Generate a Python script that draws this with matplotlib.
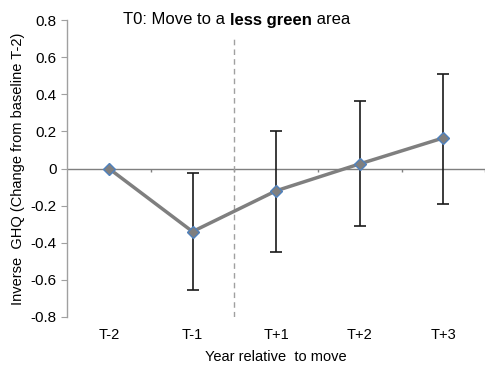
import matplotlib.pyplot as plt
import numpy as np

plt.rcParams['font.family'] = ['Liberation Sans', 'DejaVu Sans']

# data
labels = ["T-2", "T-1", "T+1", "T+2", "T+3"]
ghq = [0.0, -0.34, -0.12, 0.025, 0.165]
err_low = [0.0, 0.315, 0.33, 0.335, 0.355]
err_high = [0.0, 0.315, 0.325, 0.34, 0.345]

fig = plt.figure(figsize=(4.9, 3.8), dpi=100)
ax = fig.add_axes([0.137, 0.166, 0.853, 0.781])

x = np.arange(len(labels))

# error bars (none for the baseline)
ax.errorbar(x[1:], ghq[1:], yerr=[err_low[1:], err_high[1:]], fmt="none",
            ecolor="#1a1a1a", elinewidth=1.2, capsize=4, capthick=1.2, zorder=2)
ax.plot(x, ghq, color="#7f7f7f", lw=2.5, marker="D", ms=6.5,
        mfc="#7f7f7f", mec="#4f81bd", mew=1.0, zorder=3)

ax.axhline(0, color="#7f7f7f", lw=1.0, zorder=1)
ax.vlines(np.arange(0.5, 5, 1), 0, -0.02, color="#7f7f7f", lw=1.0)
ax.vlines(1.5, -0.8, 0.7, color="#a0a0a0", lw=1.0, linestyles=(0, (4, 3)))

ax.set_xlim(-0.5, 4.5)
ax.set_ylim(-0.8, 0.8)
yt = np.arange(-0.8, 0.81, 0.2)
ax.set_yticks(yt)
ax.set_yticklabels(["0" if abs(v) < 1e-9 else f"{v:.1f}" for v in yt])
ax.set_xticks(x)
ax.set_xticklabels(labels)

for s in ["top", "right", "bottom"]:
    ax.spines[s].set_visible(False)
ax.spines["left"].set_color("#a0a0a0")
ax.spines["left"].set_linewidth(1.0)
ax.tick_params(axis="y", colors="#a0a0a0", labelcolor="black", labelsize=11, length=4)
ax.tick_params(axis="x", length=0, labelsize=10.5, pad=8)

ax.set_xlabel("Year relative  to move", fontsize=10.5, labelpad=6)
ax.set_ylabel("Inverse  GHQ (Change from baseline T-2)", fontsize=10.5, labelpad=4)

# title with a bold part
fig.canvas.draw()
r = fig.canvas.get_renderer()
ty = 1 - 20 / 380
t1 = fig.text(123 / 490, ty, "T0: Move to a ", fontsize=12, va="center")
w = t1.get_window_extent(r).width
t2 = fig.text((123 + w) / 490, ty, "less green", fontsize=12, weight="bold", va="center")
w2 = t2.get_window_extent(r).width
fig.text((123 + w + w2) / 490, ty, " area", fontsize=12, va="center")

fig.savefig("out.png", dpi=100)
